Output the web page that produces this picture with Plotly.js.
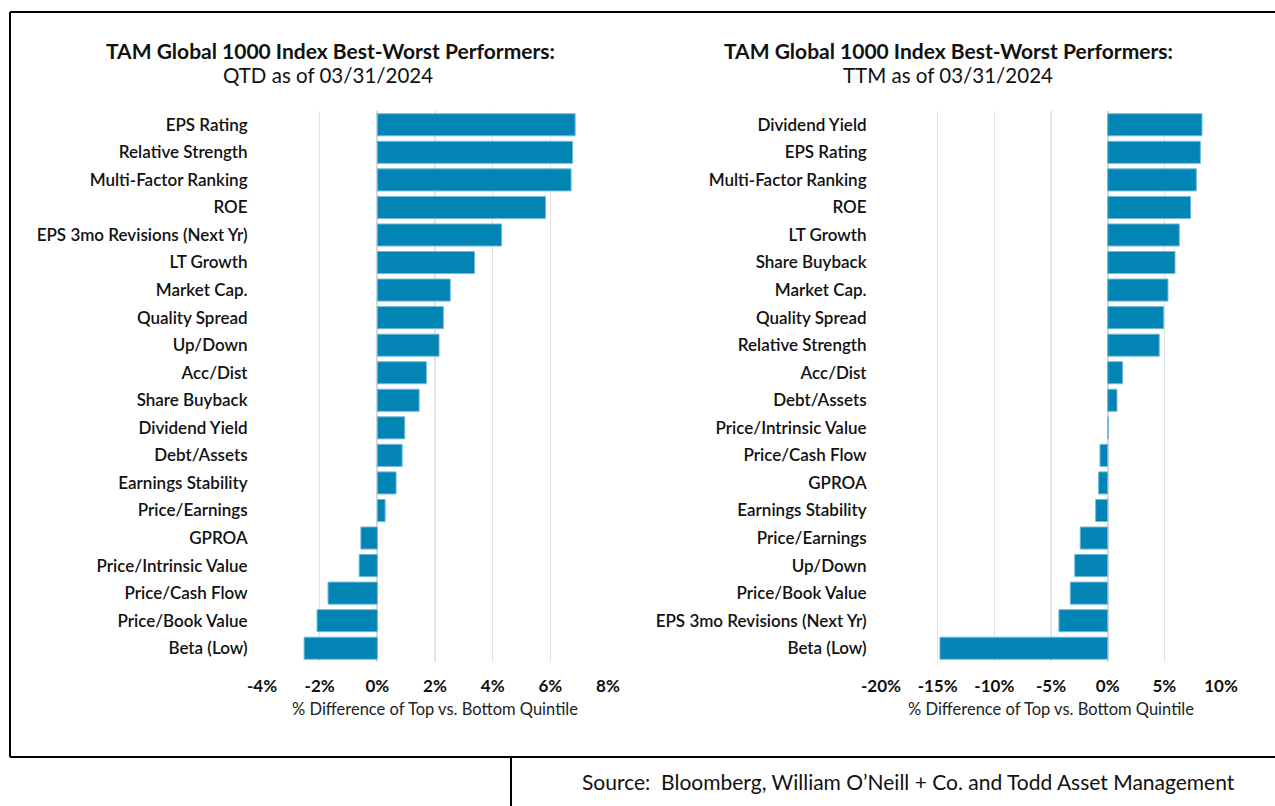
<!DOCTYPE html>
<html>
<head>
<meta charset="utf-8">
<script src="https://cdn.plot.ly/plotly-3.0.1.min.js"></script>
<style>html,body{margin:0;padding:0;background:#fff;}#chart{width:1275px;height:806px;}</style>
</head>
<body>
<div id="chart"></div>
<script>
// QTD (left) chart
const qtdCategories = ["EPS Rating","Relative Strength","Multi-Factor Ranking","ROE","EPS 3mo Revisions (Next Yr)","LT Growth","Market Cap.","Quality Spread","Up/Down","Acc/Dist","Share Buyback","Dividend Yield","Debt/Assets","Earnings Stability","Price/Earnings","GPROA","Price/Intrinsic Value","Price/Cash Flow","Price/Book Value","Beta (Low)"];
const qtdValues = [6.86, 6.77, 6.72, 5.83, 4.31, 3.37, 2.53, 2.29, 2.14, 1.70, 1.45, 0.95, 0.86, 0.65, 0.27, -0.57, -0.63, -1.71, -2.09, -2.54];
const qtdTickVals = [-4, -2, 0, 2, 4, 6, 8];
const qtdTickText = ["-4%", "-2%", "0%", "2%", "4%", "6%", "8%"];

// TTM (right) chart
const ttmCategories = ["Dividend Yield","EPS Rating","Multi-Factor Ranking","ROE","LT Growth","Share Buyback","Market Cap.","Quality Spread","Relative Strength","Acc/Dist","Debt/Assets","Price/Intrinsic Value","Price/Cash Flow","GPROA","Earnings Stability","Price/Earnings","Up/Down","Price/Book Value","EPS 3mo Revisions (Next Yr)","Beta (Low)"];
const ttmValues = [8.32, 8.18, 7.82, 7.32, 6.32, 5.94, 5.32, 4.94, 4.55, 1.32, 0.82, 0.05, -0.68, -0.80, -1.06, -2.42, -2.91, -3.30, -4.30, -14.8];
const ttmTickVals = [-20, -15, -10, -5, 0, 5, 10];
const ttmTickText = ["-20%", "-15%", "-10%", "-5%", "0%", "5%", "10%"];

const titleLine1 = "TAM Global 1000 Index Best-Worst Performers:";
const qtdSubtitle = "QTD as of 03/31/2024";
const ttmSubtitle = "TTM as of 03/31/2024";
const xAxisTitle = "% Difference of Top vs. Bottom Quintile";
const sourceText = "Source:  Bloomberg, William O\u2019Neill + Co. and Todd Asset Management";

const W = 1275, H = 806;
const px = x => x / W;
const py = y => 1 - y / H;

const FONT = "Lato, 'Open Sans', sans-serif";
const barColor = "#0284b5";
const barLine = "#6fb9d8";

const traces = [
  {type: "bar", orientation: "h", y: qtdCategories, x: qtdValues, xaxis: "x", yaxis: "y",
   marker: {color: barColor, line: {color: barLine, width: 1}}, width: 0.8, hoverinfo: "x+y"},
  {type: "bar", orientation: "h", y: ttmCategories, x: ttmValues, xaxis: "x2", yaxis: "y2",
   marker: {color: barColor, line: {color: barLine, width: 1}}, width: 0.8, hoverinfo: "x+y"}
];

const xCommon = {
  showgrid: true, gridcolor: "#e3e3e3", gridwidth: 1.5,
  zeroline: true, zerolinecolor: "#d9d9d9", zerolinewidth: 2,
  showline: false, ticks: "outside", ticklen: 9, tickcolor: "rgba(0,0,0,0)", tickmode: "array",
  tickfont: {family: FONT, size: 17, color: "#111", weight: "bold"},
  title: {text: xAxisTitle, font: {family: FONT, size: 16.5, color: "#222"}, standoff: 8},
  fixedrange: true
};
const yCommon = {
  type: "category", autorange: "reversed", showgrid: false, zeroline: false, showline: false,
  ticks: "outside", ticklen: 10, tickcolor: "rgba(0,0,0,0)",
  tickfont: {family: FONT, size: 17, color: "#111", weight: 600},
  fixedrange: true
};

const layout = {
  width: W, height: H,
  margin: {l: 0, r: 0, t: 0, b: 0},
  paper_bgcolor: "#fff", plot_bgcolor: "#fff",
  showlegend: false,
  bargap: 0.19,
  xaxis: Object.assign({}, xCommon, {domain: [px(262), px(608)], range: [-4, 8], tickvals: qtdTickVals, ticktext: qtdTickText, anchor: "y"}),
  yaxis: Object.assign({}, yCommon, {domain: [py(662), py(111)], anchor: "x"}),
  xaxis2: Object.assign({}, xCommon, {domain: [px(881), px(1221)], range: [-20, 10], tickvals: ttmTickVals, ticktext: ttmTickText, anchor: "y2"}),
  yaxis2: Object.assign({}, yCommon, {domain: [py(662), py(111)], anchor: "x2"}),
  annotations: [
    {xref: "paper", yref: "paper", x: px(330), y: py(50), text: "<b>" + titleLine1 + "</b>", showarrow: false, xanchor: "center", yanchor: "middle", font: {family: FONT, size: 21, color: "#111"}},
    {xref: "paper", yref: "paper", x: px(328), y: py(75), text: qtdSubtitle, showarrow: false, xanchor: "center", yanchor: "middle", font: {family: FONT, size: 20.5, color: "#111"}},
    {xref: "paper", yref: "paper", x: px(949), y: py(50), text: "<b>" + titleLine1 + "</b>", showarrow: false, xanchor: "center", yanchor: "middle", font: {family: FONT, size: 21, color: "#111"}},
    {xref: "paper", yref: "paper", x: px(948), y: py(75), text: ttmSubtitle, showarrow: false, xanchor: "center", yanchor: "middle", font: {family: FONT, size: 20.5, color: "#111"}},
    {xref: "paper", yref: "paper", x: px(908), y: py(781), text: sourceText, showarrow: false, xanchor: "center", yanchor: "middle", font: {family: FONT, size: 21, color: "#111"}}
  ],
  shapes: [
    {type: "line", xref: "paper", yref: "paper", x0: px(10), x1: px(1280), y0: py(12), y1: py(12), line: {color: "#000", width: 2}},
    {type: "line", xref: "paper", yref: "paper", x0: px(10), x1: px(10), y0: py(12), y1: py(757), line: {color: "#000", width: 2}},
    {type: "line", xref: "paper", yref: "paper", x0: px(10), x1: px(1280), y0: py(757), y1: py(757), line: {color: "#000", width: 2}},
    {type: "line", xref: "paper", yref: "paper", x0: px(511), x1: px(511), y0: py(757), y1: py(810), line: {color: "#000", width: 2}}
  ]
};

Plotly.newPlot("chart", traces, layout, {displayModeBar: false, staticPlot: true});
</script>
</body>
</html>
